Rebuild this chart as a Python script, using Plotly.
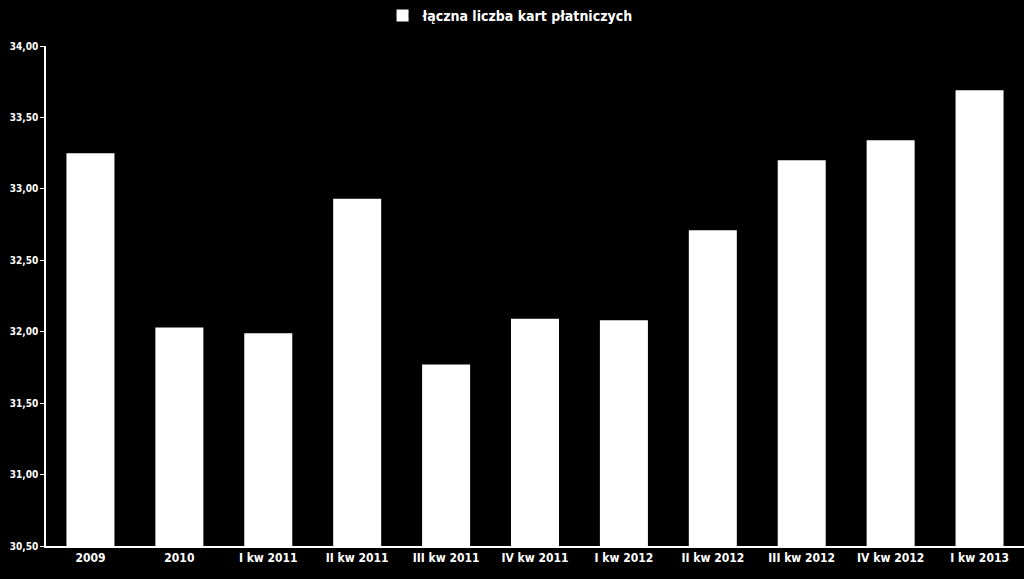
import plotly.graph_objects as go

categories = ["2009", "2010", "I kw 2011", "II kw 2011", "III kw 2011", "IV kw 2011",
              "I kw 2012", "II kw 2012", "III kw 2012", "IV kw 2012", "I kw 2013"]
values = [33.25, 32.03, 31.99, 32.93, 31.77, 32.09, 32.08, 32.71, 33.20, 33.34, 33.69]
series_name = "łączna liczba kart płatniczych"
axis_min = 30.5
axis_max = 34.0
tick_vals = [30.5, 31.0, 31.5, 32.0, 32.5, 33.0, 33.5, 34.0]
tick_text = ["30,50", "31,00", "31,50", "32,00", "32,50", "33,00", "33,50", "34,00"]

font_family = "DejaVu Sans Condensed, Liberation Sans Narrow, Arial Narrow, sans-serif"

fig = go.Figure()
fig.add_trace(go.Bar(
    x=categories, y=values, name=series_name,
    marker=dict(color="white", line=dict(width=0)),
    width=0.54,
))

fig.update_layout(
    width=1024, height=579,
    paper_bgcolor="black", plot_bgcolor="black",
    margin=dict(l=46, r=0, t=46, b=33),
    showlegend=True,
    legend=dict(orientation="h", x=0.475, xanchor="center", y=1.0, yanchor="top",
                yref="container",
                font=dict(color="white", size=14, family=font_family, weight="bold"),
                itemwidth=30, tracegroupgap=0),
    font=dict(family=font_family, color="white"),
)
fig.update_xaxes(
    showline=True, linecolor="white", linewidth=1.5,
    tickfont=dict(color="white", size=12, family=font_family, weight="bold"),
    ticks="", showgrid=False,
)
fig.update_yaxes(
    range=[axis_min, axis_max], tickvals=tick_vals, ticktext=tick_text,
    showline=True, linecolor="white", linewidth=1.5,
    ticks="outside", tickcolor="white", ticklen=4,
    tickfont=dict(color="white", size=10, family=font_family, weight="bold"),
    showgrid=False, zeroline=False,
)
fig.write_html(
    "out.html",
    config={"displayModeBar": False},
    post_script="document.body.style.margin='0';document.body.style.background='black';",
)
